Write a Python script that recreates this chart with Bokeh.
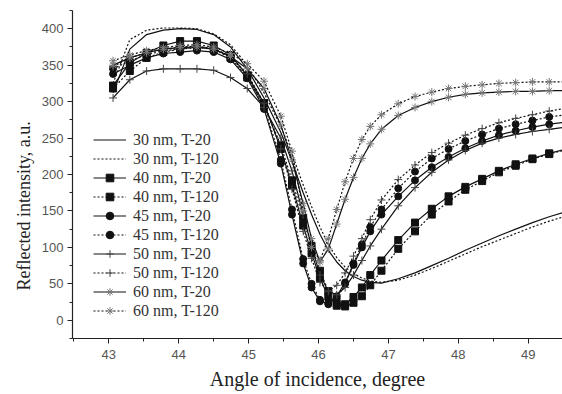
from bokeh.plotting import figure
from bokeh.models import Range1d, SingleIntervalTicker, Legend, LegendItem, Title
from bokeh.embed import file_html
from bokeh.resources import INLINE

# ---- data ----
angle = [43.06, 43.30, 43.54, 43.78, 44.02, 44.26, 44.50, 44.74, 44.98, 45.22,
         45.46, 45.62, 45.78, 45.90, 46.02, 46.14, 46.26, 46.38, 46.50, 46.62,
         46.74, 46.90, 47.14, 47.38, 47.62, 47.86, 48.10, 48.34, 48.58, 48.82,
         49.06, 49.30, 49.54]

nm30_t20 = [312, 372, 392, 398, 400, 399, 392, 375, 345, 305,
            258, 218, 175, 145, 118, 96, 80, 68, 60, 55,
            52, 51, 57, 65, 75, 85, 96, 106, 116, 125,
            134, 142, 149]
nm30_t120 = [325, 385, 398, 401, 401, 400, 393, 378, 350, 312,
             266, 228, 186, 156, 128, 104, 86, 73, 64, 58,
             54, 52, 55, 62, 71, 81, 91, 101, 110, 119,
             128, 136, 143]
nm40_t20 = [322, 353, 367, 377, 383, 383, 377, 364, 336, 298,
            235, 185, 130, 92, 58, 32, 20, 22, 32, 45,
            62, 82, 110, 134, 153, 170, 183, 194, 205, 214,
            222, 229, 235]
nm40_t120 = [318, 342, 360, 368, 372, 375, 372, 360, 333, 296,
             240, 192, 140, 102, 68, 40, 23, 19, 24, 33,
             48, 68, 98, 122, 145, 163, 179, 191, 203, 212,
             221, 228, 234]
nm45_t20 = [338, 350, 360, 366, 368, 370, 368, 358, 332, 290,
            215, 145, 78, 45, 26, 23, 33, 52, 76, 100,
            122, 145, 170, 192, 210, 224, 236, 246, 254, 260,
            265, 269, 272]
nm45_t120 = [345, 356, 364, 370, 372, 374, 372, 362, 336, 293,
             220, 152, 84, 50, 28, 22, 30, 50, 78, 104,
             128, 152, 181, 204, 222, 235, 246, 255, 263, 269,
             274, 279, 282]
nm50_t20 = [305, 330, 342, 345, 345, 345, 343, 333, 318, 292,
            250, 205, 145, 102, 62, 40, 35, 45, 62, 82,
            102, 125, 157, 182, 203, 220, 233, 243, 250, 255,
            259, 262, 265]
nm50_t120 = [348, 360, 367, 372, 375, 376, 373, 362, 338, 298,
             235, 180, 122, 85, 52, 40, 48, 65, 88, 112,
             138, 165, 193, 213, 230, 243, 254, 263, 271, 277,
             282, 287, 291]
nm60_t20 = [350, 360, 367, 372, 374, 375, 372, 362, 345, 318,
            268, 220, 160, 112, 80, 98, 132, 166, 196, 222,
            242, 262, 281, 292, 300, 306, 310, 312, 313, 314,
            314, 315, 315]
nm60_t120 = [356, 364, 370, 374, 377, 378, 375, 366, 352, 328,
             280, 232, 150, 100, 82, 112, 152, 190, 222, 248,
             266, 282, 297, 307, 313, 318, 321, 323, 325, 326,
             327, 327, 327]

labels = ["30 nm, T-20", "30 nm, T-120", "40 nm, T-20", "40 nm, T-120",
          "45 nm, T-20", "45 nm, T-120", "50 nm, T-20", "50 nm, T-120",
          "60 nm, T-20", "60 nm, T-120"]
series = [nm30_t20, nm30_t120, nm40_t20, nm40_t120, nm45_t20, nm45_t120,
          nm50_t20, nm50_t120, nm60_t20, nm60_t120]
markers = [None, None, "square", "square", "circle", "circle",
           "cross", "cross", "asterisk", "asterisk"]

x_ticks_interval = 1
y_ticks_interval = 50

# ---- figure ----
p = figure(width=562, height=394, output_backend="svg", toolbar_location=None,
           x_range=Range1d(42.48, 49.49), y_range=Range1d(-25, 425),
           min_border_left=72, min_border_right=0, min_border_top=10,
           min_border_bottom=56)
p.outline_line_color = None
p.xgrid.visible = False
p.ygrid.visible = False
p.background_fill_color = "white"

p.xaxis.ticker = SingleIntervalTicker(interval=x_ticks_interval, num_minor_ticks=2)
p.yaxis.ticker = SingleIntervalTicker(interval=y_ticks_interval, num_minor_ticks=2)

for ax in (p.xaxis[0], p.yaxis[0]):
    ax.axis_line_color = "#222222"
    ax.axis_line_width = 1.2
    ax.major_tick_line_color = "#222222"
    ax.minor_tick_line_color = "#222222"
    ax.major_tick_out = 5
    ax.major_tick_in = 0
    ax.minor_tick_out = 3
    ax.minor_tick_in = 0
    ax.major_label_text_font = "Liberation Sans"
    ax.major_label_text_font_size = "13px"
    ax.major_label_text_color = "#555555"

p.xaxis.major_label_standoff = 6
p.yaxis.major_label_standoff = 4
p.xaxis.axis_label = "Angle of incidence, degree"
p.xaxis.axis_label_text_font = "Liberation Serif"
p.xaxis.axis_label_text_font_style = "normal"
p.xaxis.axis_label_text_font_size = "20px"
p.xaxis.axis_label_text_color = "#222222"
p.xaxis.axis_label_standoff = 6

ytitle = Title(text="Reflected intensity, a.u.", align="left", offset=48,
               text_font="Liberation Serif", text_font_size="18px",
               text_font_style="normal", text_color="#222222", standoff=9)
p.add_layout(ytitle, "left")

items = []
for i, (lab, ys, mk) in enumerate(zip(labels, series, markers)):
    dash = "solid" if i % 2 == 0 else "2 2"
    rs = []
    rs.append(p.line(angle, ys, line_color="#111111", line_width=1.2, line_dash=dash))
    if mk in ("square", "circle"):
        rs.append(p.scatter(angle, ys, marker=mk, size=7, fill_color="#111111",
                            line_color="#111111"))
    elif mk == "cross":
        rs.append(p.scatter(angle, ys, marker=mk, size=8, line_color="#444444",
                            line_width=1))
    elif mk == "asterisk":
        rs.append(p.scatter(angle, ys, marker=mk, size=8, line_color="#777777",
                            line_width=1))
    items.append(LegendItem(label=lab, renderers=rs))

legend = Legend(items=items, location=(21, 18), padding=0, margin=0,
                glyph_width=33, glyph_height=19, label_height=19, spacing=0,
                label_standoff=7, label_text_font="Liberation Serif",
                label_text_font_size="16px", label_text_color="#333333",
                border_line_color=None, background_fill_alpha=0)
p.add_layout(legend)

open("out.html", "w").write(file_html(p, INLINE))
